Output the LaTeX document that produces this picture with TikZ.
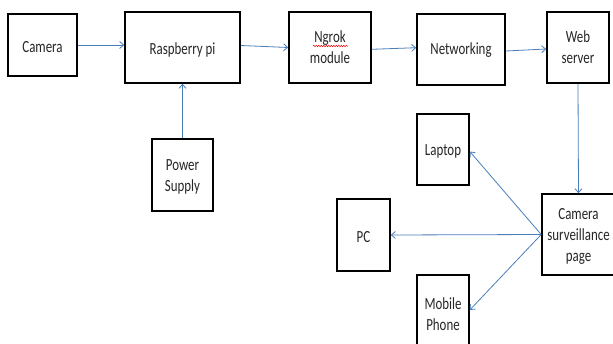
\documentclass[tikz,border=0pt]{standalone}
\usepackage{fontspec}
\setmainfont[FakeStretch=0.76]{Carlito}
\usetikzlibrary{arrows.meta,decorations.pathmorphing,calc}
\definecolor{arrblue}{HTML}{4A7EBB}
\begin{document}
\begin{tikzpicture}[x=1pt,y=-1pt,
  box/.style={draw=black,line width=1.6pt,rectangle,inner sep=0pt},
  txt/.style={align=center,inner sep=0pt,yshift=-2pt,
    font=\fontsize{17}{21}\selectfont,text=black!85},
  arr/.style={draw=arrblue,line width=0.8pt,-{Straight Barb[length=4pt,width=7pt]}}]
\useasboundingbox (0,0) rectangle (613,343);
\clip (0,0) rectangle (613,343);
\fill[white] (0,0) rectangle (613,343);
\node[box,minimum width=69pt,minimum height=62pt,label={[txt]center:Camera}] (cam) at (42.5,45) {};
\node[box,minimum width=115pt,minimum height=71pt,label={[txt]center:Raspberry pi}] (rpi) at (182.5,47.5) {};
\node[box,minimum width=61pt,minimum height=72pt,label={[txt]center:Power\\Supply}] (ps) at (182.5,175) {};
\node[box,minimum width=82pt,minimum height=71pt,label={[txt,yshift=2pt]center:Ngrok\\module}] (ng) at (330,47.5) {};
\node[box,minimum width=88pt,minimum height=71pt,label={[txt,yshift=1pt]center:Networking}] (net) at (461,49.5) {};
\node[box,minimum width=62pt,minimum height=71pt,label={[txt,yshift=2pt]center:Web\\server}] (web) at (578,47.5) {};
\node[box,minimum width=52pt,minimum height=71pt,label={[txt]center:Laptop}] (lap) at (443,149.5) {};
\node[box,minimum width=53pt,minimum height=72pt,label={[txt]center:PC}] (pc) at (363.5,235) {};
\node[box,minimum width=52pt,minimum height=74pt,label={[txt]center:Mobile\\Phone}] (mob) at (443,312) {};
\node[box,minimum width=73pt,minimum height=81pt,label={[txt]center:Camera\\surveillance\\page}] (csp) at (578.5,234.5) {};
% spell-check underline under "Ngrok"
\draw[red,line width=0.5pt,decorate,decoration={snake,amplitude=0.7pt,segment length=2.5pt}]
  ($(ng.center)+(-17,-1.5)$) -- ($(ng.center)+(18,-1.5)$);
\draw[arr] (cam.east) -- (cam.east -| rpi.west);
\draw[arr] ([yshift=2pt]rpi.east) -- (ng.west);
\draw[arr] ([yshift=-1.8pt]ng.east) -- ([yshift=1.8pt]net.west);
\draw[arr] ([yshift=-1.5pt]net.east) -- ([yshift=-1.5pt]web.west);
\draw[arr] (web.south) -- (csp.north);
\draw[arr] (ps.north) -- (rpi.south);
\draw[arr] (csp.west) -- ([yshift=-2pt]lap.east);
\draw[arr] (csp.west) -- (pc.east);
\draw[arr] (csp.west) -- ([yshift=2pt]mob.east);
\end{tikzpicture}
\end{document}
